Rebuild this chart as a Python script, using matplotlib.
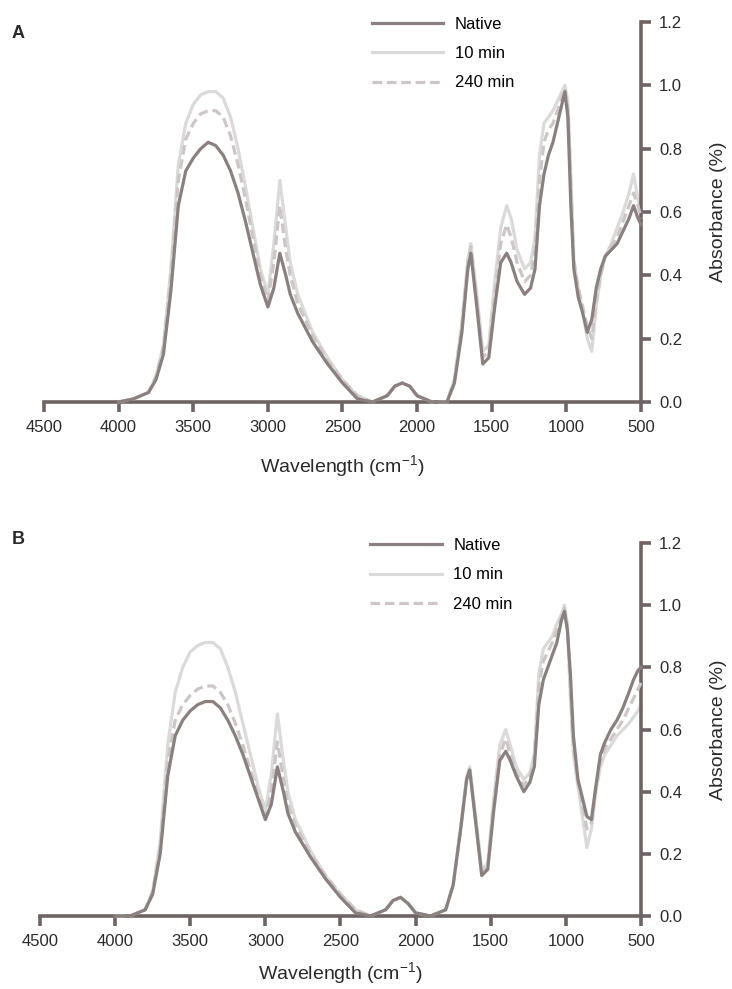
#FTIR spectra, panels A and B
import numpy as np
import matplotlib.pyplot as plt

plt.rcParams['font.family'] = ['Liberation Sans', 'DejaVu Sans']
plt.rcParams['mathtext.fontset'] = 'custom'
plt.rcParams['mathtext.rm'] = 'Liberation Sans'

wn = [4000, 3900, 3800, 3750, 3700, 3650, 3600, 3550, 3500, 3450, 3400, 3350, 3300, 3250,
      3200, 3150, 3100, 3050, 3000, 2960, 2920, 2880, 2850, 2800, 2700, 2600, 2500, 2400,
      2300, 2200, 2150, 2100, 2050, 2000, 1900, 1800, 1750, 1700, 1660, 1640, 1600, 1560,
      1520, 1480, 1440, 1400, 1370, 1330, 1280, 1240, 1210, 1180, 1150, 1120, 1090, 1060,
      1030, 1010, 990, 970, 950, 920, 890, 860, 830, 800, 770, 740, 700, 660, 620, 580,
      550, 520, 500]

a_native = [0.0, 0.01, 0.03, 0.07, 0.15, 0.35, 0.62, 0.73, 0.77, 0.80, 0.82, 0.81, 0.78, 0.73,
            0.66, 0.57, 0.47, 0.37, 0.30, 0.36, 0.47, 0.40, 0.34, 0.28, 0.19, 0.12, 0.06, 0.01,
            0.0, 0.02, 0.05, 0.06, 0.05, 0.02, 0.0, 0.0, 0.06, 0.22, 0.42, 0.47, 0.30, 0.12,
            0.14, 0.30, 0.44, 0.47, 0.44, 0.38, 0.34, 0.36, 0.42, 0.62, 0.72, 0.78, 0.82, 0.88,
            0.94, 0.98, 0.90, 0.62, 0.42, 0.33, 0.28, 0.22, 0.26, 0.36, 0.42, 0.46, 0.48, 0.50,
            0.54, 0.58, 0.62, 0.58, 0.56]
a_10 = [0.0, 0.01, 0.03, 0.08, 0.18, 0.42, 0.75, 0.88, 0.94, 0.97, 0.98, 0.98, 0.96, 0.90,
        0.80, 0.68, 0.55, 0.42, 0.34, 0.50, 0.70, 0.55, 0.44, 0.34, 0.22, 0.14, 0.07, 0.02,
        0.0, 0.02, 0.05, 0.06, 0.05, 0.02, 0.0, 0.0, 0.07, 0.25, 0.45, 0.50, 0.34, 0.16,
        0.18, 0.38, 0.55, 0.62, 0.58, 0.48, 0.42, 0.44, 0.52, 0.78, 0.88, 0.90, 0.92, 0.95,
        0.98, 1.0, 0.95, 0.72, 0.45, 0.36, 0.28, 0.20, 0.16, 0.30, 0.40, 0.46, 0.50, 0.55,
        0.60, 0.66, 0.72, 0.64, 0.60]
a_240 = [0.0, 0.01, 0.03, 0.08, 0.17, 0.40, 0.70, 0.83, 0.88, 0.91, 0.92, 0.92, 0.90, 0.84,
         0.75, 0.64, 0.52, 0.40, 0.32, 0.44, 0.62, 0.48, 0.40, 0.31, 0.21, 0.13, 0.07, 0.02,
         0.0, 0.02, 0.05, 0.06, 0.05, 0.02, 0.0, 0.0, 0.07, 0.24, 0.44, 0.49, 0.32, 0.14,
         0.16, 0.34, 0.50, 0.56, 0.52, 0.44, 0.38, 0.40, 0.48, 0.70, 0.82, 0.86, 0.88, 0.92,
         0.96, 0.99, 0.93, 0.68, 0.44, 0.36, 0.30, 0.24, 0.20, 0.32, 0.40, 0.46, 0.49, 0.52,
         0.57, 0.62, 0.66, 0.62, 0.58]

b_native = [0.0, 0.0, 0.02, 0.07, 0.20, 0.45, 0.58, 0.63, 0.66, 0.68, 0.69, 0.69, 0.67, 0.63,
            0.58, 0.52, 0.45, 0.38, 0.31, 0.36, 0.48, 0.40, 0.33, 0.27, 0.19, 0.12, 0.06, 0.01,
            0.0, 0.02, 0.05, 0.06, 0.04, 0.01, 0.0, 0.02, 0.10, 0.28, 0.44, 0.47, 0.30, 0.13,
            0.15, 0.34, 0.50, 0.53, 0.50, 0.45, 0.40, 0.43, 0.48, 0.68, 0.76, 0.80, 0.84, 0.88,
            0.95, 0.98, 0.92, 0.78, 0.58, 0.44, 0.38, 0.32, 0.31, 0.42, 0.52, 0.56, 0.60, 0.63,
            0.67, 0.72, 0.76, 0.79, 0.80]
b_10 = [0.0, 0.0, 0.02, 0.08, 0.24, 0.55, 0.72, 0.80, 0.85, 0.87, 0.88, 0.88, 0.86, 0.80,
        0.72, 0.62, 0.52, 0.42, 0.34, 0.46, 0.65, 0.50, 0.40, 0.31, 0.21, 0.13, 0.07, 0.02,
        0.0, 0.02, 0.05, 0.06, 0.04, 0.01, 0.0, 0.02, 0.10, 0.29, 0.45, 0.48, 0.32, 0.15,
        0.17, 0.38, 0.55, 0.60, 0.55, 0.48, 0.44, 0.46, 0.52, 0.78, 0.86, 0.88, 0.90, 0.94,
        0.97, 1.0, 0.94, 0.70, 0.52, 0.42, 0.32, 0.22, 0.28, 0.40, 0.48, 0.52, 0.55, 0.58,
        0.60, 0.62, 0.64, 0.66, 0.68]
b_240 = [0.0, 0.0, 0.02, 0.08, 0.22, 0.50, 0.63, 0.68, 0.71, 0.73, 0.74, 0.74, 0.72, 0.68,
         0.62, 0.55, 0.47, 0.39, 0.32, 0.40, 0.56, 0.44, 0.36, 0.29, 0.20, 0.13, 0.07, 0.02,
         0.0, 0.02, 0.05, 0.06, 0.04, 0.01, 0.0, 0.02, 0.10, 0.28, 0.44, 0.47, 0.31, 0.14,
         0.16, 0.36, 0.52, 0.57, 0.52, 0.46, 0.42, 0.45, 0.50, 0.74, 0.82, 0.85, 0.88, 0.92,
         0.96, 0.99, 0.93, 0.74, 0.55, 0.43, 0.36, 0.28, 0.30, 0.41, 0.50, 0.54, 0.57, 0.60,
         0.63, 0.67, 0.70, 0.73, 0.75]

labels = ['Native', '10 min', '240 min']
xticks = [4500, 4000, 3500, 3000, 2500, 2000, 1500, 1000, 500]
yticks = [0.0, 0.2, 0.4, 0.6, 0.8, 1.0, 1.2]

axcol = '#6e6464'
txtcol = '#2a2a2a'
fig = plt.figure(figsize=(7.32, 9.89), dpi=100)
# panel A: x 44..641 px, y 22..402 px ; panel B: x 40..641 px, y 543..916 px
axA = fig.add_axes([44 / 732, 1 - 402 / 989, 597 / 732, 380 / 989])
axB = fig.add_axes([40 / 732, 1 - 916 / 989, 601 / 732, 373 / 989])


def draw(ax, nat, m10, m240, xpad):
    ax.plot(wn, nat, color='#8a8080', lw=2.3, label=labels[0], zorder=4, clip_on=False)
    ax.plot(wn, m10, color='#dadada', lw=2.3, label=labels[1], zorder=2, clip_on=False)
    ax.plot(wn, m240, color='#cdc6c6', lw=2.3, ls=(0, (3, 1.5)), label=labels[2], zorder=3, clip_on=False)
    ax.set_xlim(4500, 500)
    ax.set_ylim(0, 1.2)
    ax.set_xticks(xticks)
    ax.set_yticks(yticks)
    ax.set_yticklabels(['%.1f' % v for v in yticks])
    for s in ['left', 'top']:
        ax.spines[s].set_visible(False)
    for s in ['right', 'bottom']:
        ax.spines[s].set_color(axcol)
        ax.spines[s].set_linewidth(2.6)
    ax.yaxis.tick_right()
    ax.yaxis.set_label_position('right')
    ax.tick_params(colors=axcol, width=2.6, length=7, labelsize=12, labelcolor=txtcol, pad=6)
    ax.set_xlabel('Wavelength (cm$^{-1}$)', fontsize=14, color=txtcol, labelpad=xpad)
    ax.set_ylabel('Absorbance (%)', fontsize=14, color=txtcol, labelpad=20)
    ax.legend(loc='upper left', bbox_to_anchor=(0.535, 1.035), frameon=False, fontsize=12,
              handlelength=4.3, labelspacing=0.85, handletextpad=0.7, borderpad=0)


draw(axA, a_native, a_10, a_240, 13)
draw(axB, b_native, b_10, b_240, 8)

fig.text(12 / 732, 1 - 33 / 989, 'A', fontsize=13, fontweight='bold', va='center', color=txtcol)
fig.text(12 / 732, 1 - 540 / 989, 'B', fontsize=13, fontweight='bold', va='center', color=txtcol)

plt.savefig('out.png', dpi=100)
